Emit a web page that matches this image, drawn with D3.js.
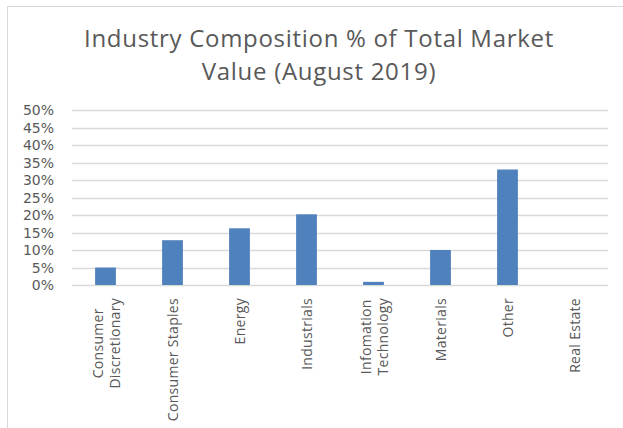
<!DOCTYPE html>
<html>
<head>
<meta charset="utf-8">
<script src="https://cdn.jsdelivr.net/npm/d3@7"></script>
<style>
  body { margin: 0; background: #fff; }
  svg { display: block; }
</style>
</head>
<body>
<div id="chart"></div>
<script>
// chart data
const categories = [
  ["Consumer", "Discretionary"],
  ["Consumer Staples"],
  ["Energy"],
  ["Industrials"],
  ["Infomation", "Technology"],
  ["Materials"],
  ["Other"],
  ["Real Estate"]
];
const values = [0.05, 0.128, 0.162, 0.202, 0.009, 0.10, 0.33, 0];
const yTicks = [0, 0.05, 0.1, 0.15, 0.2, 0.25, 0.3, 0.35, 0.4, 0.45, 0.5];
const titleLines = ["Industry Composition % of Total Market", "Value (August 2019)"];

const width = 623;
const height = 428;
const margin = { top: 110, right: 15, bottom: 143, left: 72 };
const textColor = "#595959";
const font = "Open Sans, sans-serif";

const svg = d3
  .select("#chart")
  .append("svg")
  .attr("width", width)
  .attr("height", height);

// frame (only the left and top edges show in the picture)
svg
  .append("path")
  .attr("d", `M7.5,${height} V6.5 H${width}`)
  .attr("fill", "none")
  .attr("stroke", "#d9d9d9");

// title
svg
  .append("g")
  .selectAll("text")
  .data(titleLines)
  .enter()
  .append("text")
  .attr("x", 319)
  .attr("y", (d, i) => 47 + i * 33)
  .attr("text-anchor", "middle")
  .attr("font-family", font)
  .attr("font-size", 24)
  .attr("letter-spacing", 0.7)
  .attr("fill", textColor)
  .text((d) => d);

const xScale = d3
  .scaleBand()
  .domain(d3.range(categories.length))
  .range([margin.left, width - margin.right])
  .paddingInner(0.69)
  .paddingOuter(0.345);

const yScale = d3
  .scaleLinear()
  .domain([0, 0.5])
  .range([height - margin.bottom, margin.top]);

// gridlines
svg
  .append("g")
  .selectAll("line")
  .data(yTicks)
  .enter()
  .append("line")
  .attr("x1", margin.left)
  .attr("x2", width - margin.right)
  .attr("y1", (d) => Math.round(yScale(d)) + 0.5)
  .attr("y2", (d) => Math.round(yScale(d)) + 0.5)
  .attr("stroke", "#d9d9d9")
  .attr("stroke-width", 1.3);

// y labels
svg
  .append("g")
  .selectAll("text")
  .data(yTicks)
  .enter()
  .append("text")
  .attr("x", 54)
  .attr("y", (d) => yScale(d) + 5)
  .attr("text-anchor", "end")
  .attr("font-family", "DejaVu Sans, sans-serif")
  .attr("font-size", 14)
  .attr("fill", textColor)
  .text((d) => d3.format(".0%")(d));

// bars
svg
  .append("g")
  .selectAll("rect")
  .data(values)
  .enter()
  .append("rect")
  .attr("x", (d, i) => xScale(i))
  .attr("y", (d) => yScale(d))
  .attr("width", xScale.bandwidth())
  .attr("height", (d) => yScale(0) - yScale(d))
  .attr("fill", "#4f81bd");

// x labels, rotated; lines centred on each other, longest one starts at y=298
const labels = svg
  .append("g")
  .selectAll("text")
  .data(categories)
  .enter()
  .append("text")
  .attr("text-anchor", "middle")
  .attr("font-family", font)
  .attr("font-size", 14)
  .attr("letter-spacing", 0.3)
  .attr("fill", textColor);

labels
  .selectAll("tspan")
  .data((d) => d.map((t, j) => ({ t, j, n: d.length })))
  .enter()
  .append("tspan")
  .attr("x", 0)
  .attr("y", (d) => 5.5 + (d.j - (d.n - 1) / 2) * 17)
  .text((d) => d.t);

labels.attr("transform", function (d, i) {
  const cx = xScale(i) + xScale.bandwidth() / 2;
  let maxW = 0;
  d3.select(this)
    .selectAll("tspan")
    .each(function () {
      maxW = Math.max(maxW, this.getComputedTextLength());
    });
  return `translate(${cx}, ${298 + maxW / 2}) rotate(-90)`;
});
</script>
</body>
</html>
